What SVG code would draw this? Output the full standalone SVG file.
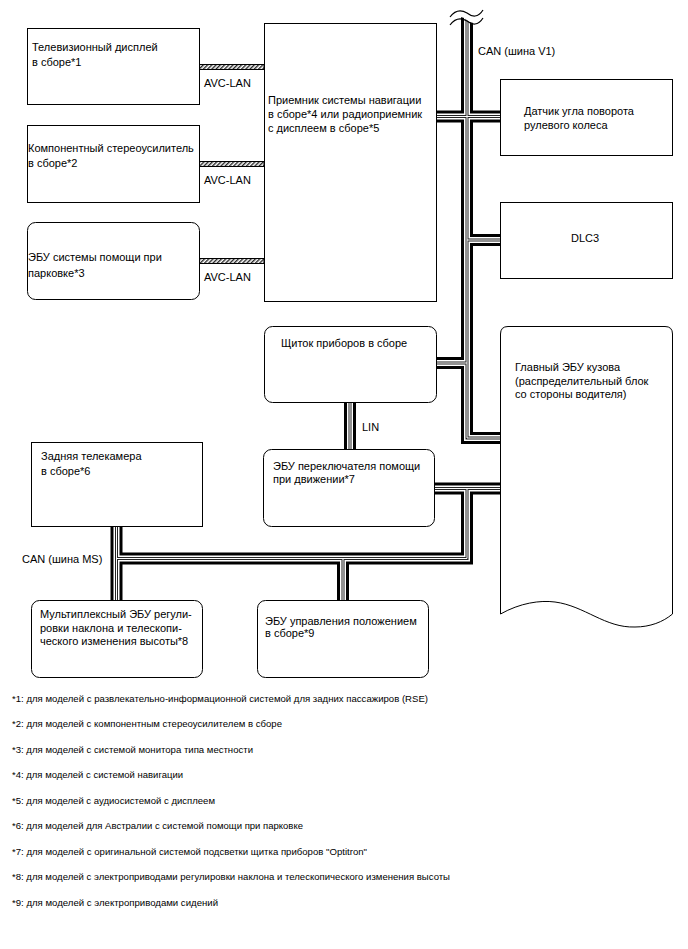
<svg xmlns="http://www.w3.org/2000/svg" width="688" height="949" viewBox="0 0 688 949">
<style>
.box{fill:#fff;stroke:#000;stroke-width:1}
.t{font-family:"Liberation Sans",Arial,sans-serif;font-size:11px;fill:#000}
.fn{font-family:"Liberation Sans",Arial,sans-serif;font-size:9.7px;fill:#000}
.b1{fill:none;stroke:#000;stroke-width:12;stroke-linejoin:miter}
.b2{fill:none;stroke:#fff;stroke-width:6;stroke-linejoin:miter}
.b3{fill:none;stroke:#222;stroke-width:3;stroke-linejoin:miter}
.b4{fill:none;stroke:#fff;stroke-width:1;stroke-linejoin:miter}
.avc{fill:url(#hatch);stroke:#000;stroke-width:1}
.wave{fill:none;stroke:#000;stroke-width:1.2}
</style>
<defs>
<pattern id="hatch" width="3" height="3" patternUnits="userSpaceOnUse" patternTransform="rotate(45)">
<rect width="3" height="3" fill="#fff"/>
<line x1="0.75" y1="0" x2="0.75" y2="3" stroke="#000" stroke-width="1.2"/>
</pattern>
</defs>
<rect width="688" height="949" fill="#fff"/>

<g id="connectors">
<g id="bus-can-v1">
<path class="b1" d="M467,14 V438 H500 M436,116.5 H500 M467,240 H500 M436,363 H467"/>
<path class="b2" d="M467,14 V438 H500 M436,116.5 H500 M467,240 H500 M436,363 H467"/>
<path class="b3" d="M467,14 V438 H500 M436,116.5 H500 M467,240 H500 M436,363 H467"/>
<path class="b4" d="M467,14 V438 H500 M436,116.5 H500 M467,240 H500 M436,363 H467"/>
<path d="M448,24 C455,15 462,16 467,20 C472,24 478,25 484,17 V0 H448 Z" fill="#fff"/>
<path class="wave" d="M450,17 C456,9 462,10 467,13 C472,17 478,18 483,10"/>
<path class="wave" d="M450,25 C456,17 462,18 467,21 C472,25 478,26 483,18"/>
</g>
<g id="bus-lin">
<path class="b1" d="M350,402 V449"/>
<path class="b2" d="M350,402 V449"/>
<path class="b3" d="M350,402 V449"/>
<path class="b4" d="M350,402 V449"/>
</g>
<g id="bus-can-ms">
<path class="b1" d="M434,488.5 H500 M467,488.5 V558.5 H116.5 M116.5,526 V600 M343,558.5 V600"/>
<path class="b2" d="M434,488.5 H500 M467,488.5 V558.5 H116.5 M116.5,526 V600 M343,558.5 V600"/>
<path class="b3" d="M434,488.5 H500 M467,488.5 V558.5 H116.5 M116.5,526 V600 M343,558.5 V600"/>
<path class="b4" d="M434,488.5 H500 M467,488.5 V558.5 H116.5 M116.5,526 V600 M343,558.5 V600"/>
</g>
<g id="avc-lan">
<rect class="avc" x="199.5" y="64.5" width="64.5" height="5"/>
<rect class="avc" x="199.5" y="161.5" width="64.5" height="5"/>
<rect class="avc" x="199.5" y="258.5" width="64.5" height="5"/>
</g>
<text class="t" x="204" y="87">AVC-LAN</text>
<text class="t" x="204" y="184">AVC-LAN</text>
<text class="t" x="204" y="281">AVC-LAN</text>
<text class="t" x="478" y="55">CAN (шина V1)</text>
<text class="t" x="362" y="431">LIN</text>
<text class="t" x="22" y="563">CAN (шина MS)</text>
</g>

<g id="tv-display">
<rect class="box" x="27.5" y="28.5" width="172" height="76"/>
<text class="t" x="32" y="51">Телевизионный дисплей</text>
<text class="t" x="32" y="66">в сборе*1</text>
</g>
<g id="stereo-amp">
<rect class="box" x="27.5" y="125.5" width="172" height="77"/>
<text class="t" x="28" y="152">Компонентный стереоусилитель</text>
<text class="t" x="28" y="167">в сборе*2</text>
</g>
<g id="parking-ecu">
<rect class="box" x="27.5" y="222.5" width="172" height="77" rx="8"/>
<text class="t" x="28" y="261">ЭБУ системы помощи при</text>
<text class="t" x="28" y="277">парковке*3</text>
</g>
<g id="nav-receiver">
<rect class="box" x="264.5" y="23.5" width="172" height="278"/>
<text class="t" x="268" y="104">Приемник системы навигации</text>
<text class="t" x="268" y="118">в сборе*4 или радиоприемник</text>
<text class="t" x="268" y="132">с дисплеем в сборе*5</text>
</g>
<g id="steering-sensor">
<rect class="box" x="500.5" y="79.5" width="172" height="76"/>
<text class="t" x="524" y="115">Датчик угла поворота</text>
<text class="t" x="524" y="129">рулевого колеса</text>
</g>
<g id="dlc3">
<rect class="box" x="500.5" y="202.5" width="172" height="76"/>
<text class="t" x="585" y="242" text-anchor="middle">DLC3</text>
</g>
<g id="combination-meter">
<rect class="box" x="264.5" y="326.5" width="172" height="76" rx="8"/>
<text class="t" x="281" y="347">Щиток приборов в сборе</text>
</g>
<g id="main-body-ecu">
<path class="box" d="M500.5,614 V334 Q500.5,326.5 508,326.5 H665 Q672.5,326.5 672.5,334 V614 C663,622 650,627 635,627 C605,628 585,606 555,602 C540,600 520,603 500.5,614 Z"/>
<text class="t" x="515" y="371">Главный ЭБУ кузова</text>
<text class="t" x="515" y="385">(распределительный блок</text>
<text class="t" x="515" y="398">со стороны водителя)</text>
</g>
<g id="driving-support-ecu">
<rect class="box" x="263.5" y="449.5" width="171" height="77" rx="8"/>
<text class="t" x="273" y="470">ЭБУ переключателя помощи</text>
<text class="t" x="273" y="483">при движении*7</text>
</g>
<g id="rear-camera">
<rect class="box" x="31.5" y="442.5" width="171" height="84"/>
<text class="t" x="41" y="460">Задняя телекамера</text>
<text class="t" x="41" y="475">в сборе*6</text>
</g>
<g id="multiplex-tilt-ecu">
<rect class="box" x="31.5" y="600.5" width="171" height="77" rx="8"/>
<text class="t" x="40" y="618">Мультиплексный ЭБУ регули-</text>
<text class="t" x="40" y="632">ровки наклона и телескопи-</text>
<text class="t" x="40" y="645">ческого изменения высоты*8</text>
</g>
<g id="position-ecu">
<rect class="box" x="257.5" y="600.5" width="171" height="77" rx="8"/>
<text class="t" x="265" y="625">ЭБУ управления положением</text>
<text class="t" x="265" y="637">в сборе*9</text>
</g>

<g id="footnotes">
<text class="fn" x="12" y="702" textLength="416" lengthAdjust="spacingAndGlyphs">*1: для моделей с развлекательно-информационной системой для задних пассажиров (RSE)</text>
<text class="fn" x="12" y="727" textLength="270" lengthAdjust="spacingAndGlyphs">*2: для моделей с компонентным стереоусилителем в сборе</text>
<text class="fn" x="12" y="753" textLength="241" lengthAdjust="spacingAndGlyphs">*3: для моделей с системой монитора типа местности</text>
<text class="fn" x="12" y="778" textLength="171" lengthAdjust="spacingAndGlyphs">*4: для моделей с системой навигации</text>
<text class="fn" x="12" y="804" textLength="203" lengthAdjust="spacingAndGlyphs">*5: для моделей с аудиосистемой с дисплеем</text>
<text class="fn" x="12" y="829" textLength="291" lengthAdjust="spacingAndGlyphs">*6: для моделей для Австралии с системой помощи при парковке</text>
<text class="fn" x="12" y="855" textLength="355" lengthAdjust="spacingAndGlyphs">*7: для моделей с оригинальной системой подсветки щитка приборов "Optitron"</text>
<text class="fn" x="12" y="880" textLength="438" lengthAdjust="spacingAndGlyphs">*8: для моделей с электроприводами регулировки наклона и телескопического изменения высоты</text>
<text class="fn" x="12" y="906" textLength="206" lengthAdjust="spacingAndGlyphs">*9: для моделей с электроприводами сидений</text>
</g>
</svg>
